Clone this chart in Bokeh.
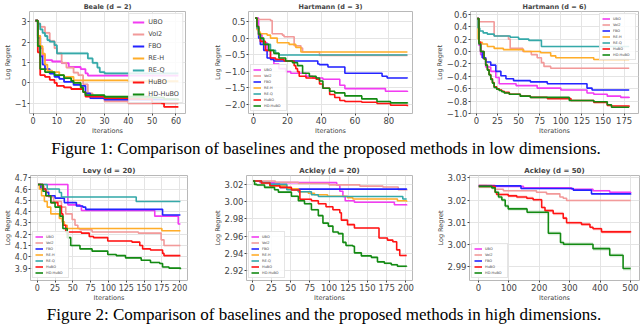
from bokeh.plotting import figure
from bokeh.layouts import column, row
from bokeh.models import (Div, Legend, LegendItem, FixedTicker,
                          CustomJSTickFormatter, Range1d)
from bokeh.embed import file_html
from bokeh.resources import INLINE

METHODS = ["UBO", "VoI2", "FBO", "RE-H", "RE-Q", "HuBO", "HD-HuBO"]
COLORS = {"UBO": "#f23cf2", "VoI2": "#f29a9a", "FBO": "#2424ff", "RE-H": "#ffad2a",
          "RE-Q": "#35a9a9", "HuBO": "#ff1414", "HD-HuBO": "#138a13"}

# ---------------- Beale (d = 2) ----------------
beale_x = {
    "UBO": [1, 2, 3, 4, 5, 8, 12, 15, 20, 22, 23, 61],
    "VoI2": [1, 2, 3, 5, 7, 9, 10, 12, 14, 17, 19, 21, 23, 25, 30, 40, 61],
    "FBO": [1, 2, 3, 4, 5, 7, 9, 11, 13, 17, 20, 22, 24, 30, 61],
    "RE-H": [1, 2, 3, 4, 5, 6, 8, 11, 13, 17, 40, 61],
    "RE-Q": [1, 2, 3, 4, 5, 6, 7, 9, 10, 23, 25, 27, 28, 30, 61],
    "HuBO": [1, 2, 3, 5, 7, 9, 10, 13, 16, 21, 22, 30, 40, 45, 50, 54, 55, 61],
    "HD-HuBO": [1, 2, 3, 5, 9, 13, 16, 17, 20, 21, 22, 30, 50, 55, 61],
}
beale_y = {
    "UBO": [3.05, 2.3, 1.7, 1.35, 1.12, 1.05, 0.97, 0.78, 0.68, 0.47, 0.36, 0.36],
    "VoI2": [3.05, 2.9, 2.75, 2.45, 2.05, 1.7, 1.45, 0.98, 0.75, 0.5, 0.38, -0.07, -0.52, -0.75, -0.9, -1.0, -1.0],
    "FBO": [3.05, 2.2, 1.3, 0.9, 0.68, 0.45, 0.3, 0.2, 0.05, -0.1, -0.15, -0.52, -0.75, -0.82, -0.85],
    "RE-H": [3.05, 2.3, 1.8, 1.43, 0.9, 0.6, 0.53, 0.38, 0.3, 0.12, 0.08, 0.08],
    "RE-Q": [3.05, 2.9, 2.62, 2.45, 2.3, 2.1, 2.02, 1.85, 1.45, 1.2, 0.98, 0.75, 0.53, 0.47, 0.47],
    "HuBO": [3.05, 1.5, 0.38, 0.3, 0.15, 0.0, -0.15, -0.22, -0.3, -0.45, -0.67, -0.75, -0.78, -0.8, -0.97, -1.0, -1.18, -1.18],
    "HD-HuBO": [3.05, 1.8, 0.68, 0.53, 0.38, 0.23, 0.1, 0.0, -0.22, -0.45, -0.6, -0.68, -0.72, -0.8, -0.85],
}
beale_band = [0.06, 0.08, 0.05, 0.05, 0.08, 0.05, 0.05]

# ---------------- Hartmann (d = 3) ----------------
h3_x = {
    "UBO": [1, 3, 5, 8, 10, 12, 15, 19, 22, 31, 35, 41, 51, 54, 78, 91],
    "VoI2": [1, 2, 10, 11, 17, 18, 24, 28, 29, 39, 91],
    "FBO": [1, 2, 3, 4, 6, 8, 10, 12, 38, 39, 44, 54, 76, 79, 91],
    "RE-H": [1, 2, 3, 4, 8, 10, 14, 21, 25, 28, 91],
    "RE-Q": [1, 2, 3, 4, 6, 10, 13, 15, 91],
    "HuBO": [1, 2, 3, 4, 7, 10, 13, 18, 24, 25, 26, 27, 31, 37, 39, 41, 45, 48, 51, 54, 64, 73, 81, 91],
    "HD-HuBO": [1, 2, 3, 4, 6, 9, 12, 15, 19, 23, 26, 29, 33, 37, 39, 41, 45, 48, 54, 64, 73, 81, 91],
}
h3_y = {
    "UBO": [0.6, 0.1, -0.14, -0.37, -0.6, -0.78, -0.92, -1.01, -1.06, -1.15, -1.2, -1.24, -1.42, -1.52, -1.6, -1.62],
    "VoI2": [0.6, 0.56, 0.53, 0.13, 0.09, 0.04, -0.23, -0.3, -0.42, -0.52, -0.52],
    "FBO": [0.6, 0.3, 0.0, -0.19, -0.37, -0.6, -0.64, -0.69, -0.78, -0.8, -0.87, -1.06, -1.15, -1.2, -1.21],
    "RE-H": [0.6, 0.25, 0.18, 0.13, 0.09, 0.0, -0.14, -0.19, -0.28, -0.42, -0.42],
    "RE-Q": [0.6, 0.3, 0.1, -0.05, -0.19, -0.37, -0.46, -0.51, -0.51],
    "HuBO": [0.6, 0.35, 0.1, -0.1, -0.37, -0.6, -0.64, -0.69, -0.83, -0.92, -1.01, -1.15, -1.2, -1.24, -1.38, -1.51, -1.7, -1.79, -1.88, -1.91, -1.93, -1.97, -2.02, -2.05],
    "HD-HuBO": [0.6, 0.35, 0.12, 0.0, -0.19, -0.37, -0.46, -0.6, -0.69, -0.74, -0.83, -1.06, -1.15, -1.2, -1.29, -1.51, -1.6, -1.65, -1.74, -1.83, -1.91, -1.95, -1.97],
}
h3_band = [0.02, 0.02, 0.02, 0.01, 0.01, 0.02, 0.02]

# ---------------- Hartmann (d = 6) ----------------
h6_x = {
    "UBO": [1, 3, 5, 7, 11, 17, 23, 27, 47, 72, 100, 131, 139, 155, 171, 181],
    "VoI2": [1, 3, 21, 38, 40, 55, 65, 72, 77, 80, 88, 181],
    "FBO": [1, 3, 5, 7, 11, 17, 23, 29, 35, 44, 64, 84, 131, 137, 181],
    "RE-H": [1, 2, 3, 7, 13, 21, 32, 56, 76, 88, 94, 139, 181],
    "RE-Q": [1, 2, 4, 8, 13, 21, 40, 50, 62, 77, 181],
    "HuBO": [1, 3, 5, 9, 11, 13, 15, 17, 19, 21, 24, 27, 30, 33, 39, 52, 64, 84, 112, 139, 155, 160, 181],
    "HD-HuBO": [1, 3, 5, 9, 11, 13, 15, 17, 19, 21, 24, 27, 30, 33, 39, 52, 64, 110, 139, 155, 160, 181],
}
h6_y = {
    "UBO": [0.53, 0.1, -0.05, -0.1, -0.25, -0.32, -0.42, -0.52, -0.55, -0.59, -0.62, -0.67, -0.69, -0.72, -0.74, -0.75],
    "VoI2": [0.53, 0.48, 0.25, 0.2, 0.05, 0.0, -0.05, -0.1, -0.18, -0.24, -0.27, -0.27],
    "FBO": [0.53, 0.15, 0.0, -0.1, -0.17, -0.22, -0.32, -0.39, -0.44, -0.47, -0.49, -0.52, -0.59, -0.62, -0.62],
    "RE-H": [0.53, 0.2, 0.15, 0.12, 0.08, 0.05, 0.03, 0.0, -0.02, -0.07, -0.1, -0.13, -0.13],
    "RE-Q": [0.53, 0.38, 0.33, 0.3, 0.28, 0.25, 0.23, 0.2, 0.18, 0.08, 0.08],
    "HuBO": [0.53, 0.15, 0.0, -0.12, -0.22, -0.29, -0.37, -0.44, -0.5, -0.57, -0.6, -0.62, -0.64, -0.66, -0.69, -0.72, -0.74, -0.76, -0.79, -0.82, -0.87, -0.88, -0.89],
    "HD-HuBO": [0.53, 0.12, 0.0, -0.12, -0.22, -0.3, -0.38, -0.45, -0.51, -0.58, -0.61, -0.63, -0.65, -0.67, -0.69, -0.72, -0.74, -0.79, -0.81, -0.86, -0.9, -0.9],
}
h6_band = [0.01, 0.01, 0.01, 0.01, 0.01, 0.012, 0.012]

# ---------------- Levy (d = 20) ----------------
levy_x = {
    "UBO": [1, 43, 60, 62, 165, 198, 201],
    "VoI2": [1, 4, 10, 16, 23, 34, 40, 49, 53, 57, 60, 77, 142, 174, 178, 201],
    "FBO": [1, 5, 12, 16, 25, 38, 55, 64, 68, 176, 201],
    "RE-H": [1, 3, 6, 10, 14, 19, 31, 35, 38, 42, 175, 201],
    "RE-Q": [1, 14, 31, 34, 139, 201],
    "HuBO": [1, 8, 12, 19, 29, 34, 36, 40, 62, 73, 79, 99, 133, 144, 148, 159, 176, 178, 201],
    "HD-HuBO": [1, 8, 12, 19, 25, 32, 36, 42, 47, 60, 77, 99, 111, 124, 146, 159, 172, 176, 185, 201],
}
levy_y = {
    "UBO": [4.64, 4.46, 4.45, 4.41, 4.36, 4.29, 4.29],
    "VoI2": [4.64, 4.62, 4.58, 4.53, 4.49, 4.44, 4.38, 4.33, 4.28, 4.25, 4.24, 4.22, 4.21, 4.15, 4.1, 4.1],
    "FBO": [4.64, 4.6, 4.57, 4.54, 4.52, 4.48, 4.45, 4.44, 4.42, 4.37, 4.37],
    "RE-H": [4.64, 4.6, 4.54, 4.49, 4.44, 4.38, 4.34, 4.31, 4.28, 4.25, 4.23, 4.23],
    "RE-Q": [4.64, 4.6, 4.57, 4.53, 4.49, 4.49],
    "HuBO": [4.64, 4.6, 4.54, 4.48, 4.45, 4.38, 4.28, 4.22, 4.21, 4.18, 4.17, 4.14, 4.13, 4.1, 4.07, 4.06, 4.03, 4.01, 4.01],
    "HD-HuBO": [4.64, 4.58, 4.54, 4.48, 4.44, 4.36, 4.25, 4.17, 4.1, 4.07, 4.05, 4.02, 4.01, 3.99, 3.97, 3.95, 3.94, 3.91, 3.9, 3.89],
}
levy_band = [0.008, 0.008, 0.006, 0.006, 0.004, 0.008, 0.008]

# ---------------- Ackley (d = 20) ----------------
ack20_x = {
    "UBO": [1, 10, 110, 114, 118, 121, 133, 185, 201],
    "VoI2": [1, 30, 60, 100, 140, 170, 190, 201],
    "FBO": [1, 12, 23, 36, 45, 201],
    "RE-H": [1, 12, 23, 45, 60, 73, 81, 98, 124, 131, 189, 201],
    "RE-Q": [1, 12, 23, 45, 60, 77, 86, 196, 201],
    "HuBO": [1, 12, 23, 36, 51, 62, 77, 86, 96, 105, 114, 116, 124, 133, 165, 176, 183, 188, 192, 201],
    "HD-HuBO": [1, 3, 6, 16, 29, 34, 51, 60, 68, 77, 86, 92, 99, 105, 112, 118, 122, 131, 133, 142, 155, 163, 172, 181, 189, 201],
}
ack20_y = {
    "UBO": [3.024, 3.022, 3.019, 3.012, 3.006, 3.001, 2.9993, 2.9965, 2.9955],
    "VoI2": [3.024, 3.0225, 3.021, 3.0195, 3.018, 3.017, 3.0138, 3.013],
    "FBO": [3.024, 3.0217, 3.02, 3.0166, 3.0145, 3.0142],
    "RE-H": [3.024, 3.0215, 3.0183, 3.0148, 3.0114, 3.0097, 3.008, 3.0062, 3.0045, 3.003, 3.001, 3.0],
    "RE-Q": [3.024, 3.022, 3.02, 3.0138, 3.0114, 3.008, 3.006, 3.003, 3.003],
    "HuBO": [3.024, 3.0217, 3.0185, 3.0165, 3.0135, 3.0028, 3.001, 2.9976, 2.9941, 2.9907, 2.9872, 2.9786, 2.9734, 2.9695, 2.958, 2.9555, 2.9535, 2.9442, 2.9377, 2.9377],
    "HD-HuBO": [3.024, 3.02, 3.0193, 3.0166, 3.0138, 3.011, 3.0062, 3.001, 2.9976, 2.9907, 2.9838, 2.9752, 2.9717, 2.9648, 2.963, 2.9528, 2.9493, 2.9483, 2.9407, 2.9372, 2.9355, 2.9303, 2.9286, 2.9269, 2.9252, 2.9248],
}
ack20_band = [0.0008, 0.0006, 0.0005, 0.0006, 0.0006, 0.0012, 0.0014]

# ---------------- Ackley (d = 50) ----------------
ack50_methods = ["UBO", "VoI2", "FBO", "HuBO", "HD-HuBO"]
ack50_x = {
    "UBO": [1, 55, 148, 306, 377, 432, 501],
    "VoI2": [1, 27, 55, 82, 191, 224, 268, 279, 290, 501],
    "FBO": [1, 140, 312, 372, 501],
    "HuBO": [1, 49, 55, 60, 98, 126, 159, 180, 208, 219, 246, 279, 290, 339, 367, 377, 405, 501],
    "HD-HuBO": [1, 44, 55, 66, 77, 88, 98, 160, 230, 270, 280, 377, 432, 476, 501],
}
ack50_y = {
    "UBO": [3.0265, 3.0262, 3.0255, 3.0249, 3.0242, 3.0235, 3.0232],
    "VoI2": [3.0265, 3.0263, 3.0249, 3.0242, 3.0235, 3.0228, 3.0214, 3.0208, 3.0198, 3.0198],
    "FBO": [3.0264, 3.0252, 3.0245, 3.0228, 3.0225],
    "HuBO": [3.0262, 3.0262, 3.0235, 3.0225, 3.0219, 3.0214, 3.0208, 3.0201, 3.0166, 3.0152, 3.0139, 3.0118, 3.0097, 3.009, 3.0077, 3.007, 3.0056, 3.0054],
    "HD-HuBO": [3.0262, 3.0255, 3.0235, 3.0214, 3.02, 3.0173, 3.016, 3.0145, 3.005, 3.0008, 3.0, 2.998, 2.995, 2.989, 2.989],
}
ack50_band = [0.0004, 0.0004, 0.0004, 0.0008, 0.0009]

CAPTION1 = "Figure 1: Comparison of baselines and the proposed methods in low dimensions."
CAPTION2 = "Figure 2: Comparison of baselines and the proposed methods in high dimensions."


def panel(title, methods, xs, ys, bands, xr, yr, xticks, yticks, ydec, w, h,
          bl, br, bt, bb, title_fs, tick_fs, lab_fs, lw, leg):
    p = figure(width=w, height=h, x_range=Range1d(*xr), y_range=Range1d(*yr),
               output_backend="svg", toolbar_location=None,
               min_border_left=bl, min_border_right=br, min_border_top=bt,
               min_border_bottom=bb)
    p.title.text = title
    p.title.align = "center"
    p.title.text_font = "DejaVu Sans"
    p.title.text_font_style = "bold"
    p.title.text_font_size = title_fs
    p.title.standoff = 1
    p.title.offset = 0
    items = []
    for m, b in zip(methods, bands):
        x = xs[m]
        y = ys[m]
        p.varea_step(x=x, y1=[v - b for v in y], y2=[v + b for v in y],
                     step_mode="after", fill_color=COLORS[m], fill_alpha=0.14)
    for m in methods:
        r = p.step(xs[m], ys[m], mode="after", line_color=COLORS[m], line_width=lw)
        items.append(LegendItem(label=m, renderers=[r]))
    lg = Legend(items=items, location=leg["loc"], label_text_font="DejaVu Sans",
                label_text_font_size=leg["fs"], glyph_width=leg["gw"],
                glyph_height=leg["gh"], label_height=leg["gh"], spacing=leg["sp"],
                padding=leg["pad"], margin=leg["mar"], label_standoff=leg["so"],
                border_line_color="#cccccc", background_fill_alpha=0.85)
    p.add_layout(lg)
    p.xaxis.ticker = FixedTicker(ticks=xticks)
    p.yaxis.ticker = FixedTicker(ticks=yticks)
    p.yaxis.formatter = CustomJSTickFormatter(
        code="return tick.toFixed(%d).replace('-', '\\u2212');" % ydec)
    p.xaxis.axis_label = "Iterations"
    p.yaxis.axis_label = "Log Regret"
    for ax in (p.xaxis, p.yaxis):
        ax.axis_label_text_font = "DejaVu Sans"
        ax.axis_label_text_font_style = "normal"
        ax.axis_label_text_font_size = lab_fs
        ax.axis_label_standoff = 0
        ax.major_label_text_font = "DejaVu Sans"
        ax.major_label_text_font_size = tick_fs
        ax.major_label_standoff = 1
        ax.axis_line_color = None
        ax.major_tick_out = 2
        ax.major_tick_in = 0
        ax.major_tick_line_color = "#444444"
        ax.minor_tick_line_color = None
    p.outline_line_color = "#b8b8b8"
    p.grid.grid_line_color = "#e4e4e4"
    p.background_fill_color = "white"
    return p


big_leg = dict(loc="top_right", fs="6.5px", gw=12, gh=10, sp=2, pad=3, mar=2, so=4)
small_tr = dict(loc="top_right", fs="3.5px", gw=8, gh=5, sp=1, pad=2, mar=2, so=3)
small_bl = dict(loc="bottom_left", fs="3.5px", gw=8, gh=5, sp=1, pad=2, mar=2, so=3)

p1 = panel("Beale (d = 2)", METHODS, beale_x, beale_y, beale_band, (-1.5, 64), (-1.5, 3.5),
           [0, 10, 20, 30, 40, 50, 60], [-1, 0, 1, 2, 3], 0, 210, 137,
           18, 25, 7, 19, "6.5px", "8px", "6.5px", 1.8, big_leg)
p2 = panel("Hartmann (d = 3)", METHODS, h3_x, h3_y, h3_band, (-3, 94), (-2.27, 0.8),
           [0, 20, 40, 60, 80], [0.5, 0.0, -0.5, -1.0, -1.5, -2.0], 1, 210, 137,
           35, 8, 7, 19, "6.5px", "8.5px", "6.5px", 1.6, small_bl)
p3 = panel("Hartmann (d = 6)", METHODS, h6_x, h6_y, h6_band, (-7, 192), (-1.0, 0.645),
           [0, 25, 50, 75, 100, 125, 150, 175], [0.6, 0.4, 0.2, 0.0, -0.2, -0.4, -0.6, -0.8, -1.0],
           1, 220, 137, 50, 2, 7, 19, "6.5px", "8.5px", "6.5px", 1.6, small_tr)
p4 = panel("Levy (d = 20)", METHODS, levy_x, levy_y, levy_band, (-9.5, 211), (3.79, 4.72),
           [0, 25, 50, 75, 100, 125, 150, 175, 200], [3.9, 4.0, 4.1, 4.2, 4.3, 4.4, 4.5, 4.6, 4.7],
           1, 210, 143, 17, 23, 14, 19, "7px", "8px", "6.5px", 1.6, small_bl)
p5 = panel("Ackley (d = 20)", METHODS, ack20_x, ack20_y, ack20_band, (-7.5, 208.6), (2.9087, 3.0303),
           [0, 25, 50, 75, 100, 125, 150, 175, 200], [2.92, 2.94, 2.96, 2.98, 3.00, 3.02],
           2, 210, 143, 35, 8, 14, 19, "7px", "8.5px", "6.5px", 1.6, small_bl)
p6 = panel("Ackley (d = 50)", ack50_methods, ack50_x, ack50_y, ack50_band, (-29.5, 530), (2.9836, 3.0311),
           [0, 100, 200, 300, 400, 500], [2.99, 3.00, 3.01, 3.02, 3.03],
           2, 220, 143, 49, 1, 14, 19, "7px", "8.5px", "6.5px", 1.6, small_bl)

cap1_style = {"font-family": "'Liberation Serif', 'Times New Roman', serif",
              "font-size": "17px", "text-align": "center", "width": "640px",
              "line-height": "24px", "color": "black", "padding-left": "12px",
              "box-sizing": "border-box"}
cap2_style = dict(cap1_style, **{"line-height": "21px", "padding-left": "8px"})
d1 = Div(text=CAPTION1, width=640, height=24, styles=cap1_style, margin=0)
d2 = Div(text=CAPTION2, width=640, height=21, styles=cap2_style, margin=0)

layout = column(row(p1, p2, p3, spacing=0), d1, row(p4, p5, p6, spacing=0), d2, spacing=0)

open("out.html", "w", encoding="utf-8").write(file_html(layout, INLINE))
